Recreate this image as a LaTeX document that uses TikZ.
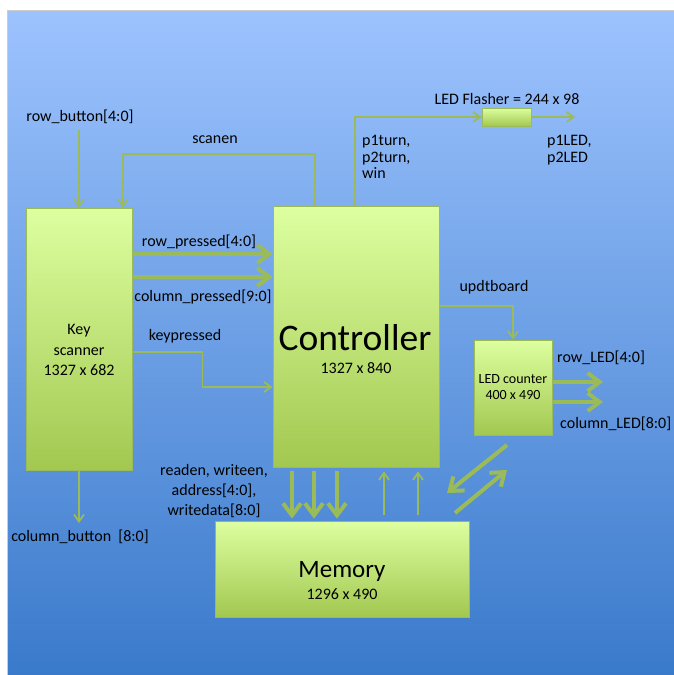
\documentclass[tikz,border=0pt]{standalone}
\usepackage{fontspec}
\setmainfont{Carlito}
\usetikzlibrary{arrows.meta,calc,positioning}
\definecolor{SkyTop}{HTML}{9DC3FE}
\definecolor{SkyBottom}{HTML}{3A7ACB}
\definecolor{LimeTop}{HTML}{DDFFA0}
\definecolor{LimeBottom}{HTML}{A2C850}
\definecolor{WireGreen}{HTML}{9BBB59}

\begin{document}
\begin{tikzpicture}[x=1pt,y=-1pt,
    block/.style={draw=WireGreen,line width=.8pt,top color=LimeTop,bottom color=LimeBottom,inner sep=0pt},
    sig/.style={-{Straight Barb[length=7pt,width=10pt]},line width=1.8pt,WireGreen},
    bus/.style={-{Straight Barb[length=12pt,width=18pt]},line width=4pt,WireGreen},
    lbl/.style={font=\fontsize{16}{16.5}\selectfont,inner sep=0pt}]
    \useasboundingbox (0,0) rectangle (674,675);
    \fill[top color=SkyTop,bottom color=SkyBottom,draw=gray!40] (7,10) rectangle (674,675);
    % blocks
    \node[block,minimum width=106pt,minimum height=262pt] (ks) at (79,339) {};
    \node[block,minimum width=166pt,minimum height=261pt] (ctrl) at (356,336.5) {};
    \node[block,minimum width=78pt,minimum height=95pt,align=center,font=\fontsize{14}{16}\selectfont] (ledcnt) at (513,387.5) {LED counter\\400 x 490};
    \node[block,minimum width=254pt,minimum height=96pt] (mem) at (342,569) {};
    \node[block,minimum width=49pt,minimum height=18pt] (flash) at (506.5,117) {};
    \node[lbl,align=center,font=\fontsize{16}{20.5}\selectfont] (kstext) at (79,350) {Key\\scanner\\1327 x 682};
    \node[inner sep=0pt,font=\fontsize{37.5}{37.5}\selectfont] (ctrltitle) at (355,338) {Controller};
    \node[lbl] (ctrlsize) at (356,368) {1327 x 840};
    \node[inner sep=0pt,font=\fontsize{25}{25}\selectfont] (memtitle) at (342,571) {Memory};
    \node[lbl] (memsize) at (342,594) {1296 x 490};
    % labels
    \node[lbl] (rblbl) at (80,117) {row\_button[4:0]};
    \node[lbl] (cblbl) at (80,537) {column\_button\ \ [8:0]};
    \node[lbl] (scanlbl) at (215,140) {scanen};
    \node[lbl] (flashlbl) at (507,99) {LED Flasher = 244 x 98};
    \node[lbl,align=left,anchor=west] (turnlbl) at (362,157) {p1turn,\\p2turn,\\win};
    \node[lbl,align=left,anchor=west] (ledlbl) at (547,150) {p1LED,\\p2LED};
    \node[lbl] (rplbl) at (199,242) {row\_pressed[4:0]};
    \node[lbl] (cplbl) at (203,297) {column\_pressed[9:0]};
    \node[lbl] (kplbl) at (185,336) {keypressed};
    \node[lbl] (updlbl) at (494,287) {updtboard};
    \node[lbl,anchor=west] (rledlbl) at (557,358) {row\_LED[4:0]};
    \node[lbl,anchor=west] (cledlbl) at (560,424) {column\_LED[8:0]};
    \node[lbl,align=center,font=\fontsize{16}{20}\selectfont] (memlbl) at (214,491) {readen, writeen,\\address[4:0],\\writedata[8:0]};
    % free ends
    \coordinate (rbin) at (79,130);
    \coordinate (cbout) at (79,523);
    \coordinate (flout) at (575,117);
    \coordinate (rled) at (603,382);
    \coordinate (cled) at (603,402);
    \coordinate (dna) at (507,445);
    \coordinate (dnb) at (447,493);
    \coordinate (upa) at (455,513);
    \coordinate (upb) at (507,470);
    % key scanner
    \draw[sig] (rbin) -- (ks.north);
    \draw[sig] (ks.south) -- (cbout);
    \draw[sig] ([xshift=-41pt]ctrl.north) -- ++(0,-52) -| ([xshift=44pt]ks.north);
    \draw[bus] ([yshift=85pt]ks.east) -- ([yshift=85pt]ks.east -| ctrl.west);
    \draw[bus] ([yshift=62pt]ks.east) -- ([yshift=62pt]ks.east -| ctrl.west);
    \draw[sig] ([yshift=-13pt]ks.east) -- ++(70,0) |- ([yshift=-50.5pt]ctrl.west);
    % controller outputs
    \draw[sig] ([xshift=-1pt]ctrl.north) |- (flash.west);
    \draw[sig] (flash.east) -- (flout);
    \draw[sig] ([yshift=30.5pt]ctrl.east) -| (ledcnt.north);
    \draw[bus] (ledcnt.east |- rled) -- (rled);
    \draw[bus] (ledcnt.east |- cled) -- (cled);
    \draw[bus] (dna) -- (dnb);
    \draw[bus] (upa) -- (upb);
    % memory
    \foreach \x in {292,314,337}
      \draw[bus,shorten <=4pt,shorten >=2pt] (ctrl.south -| \x,0) -- (mem.north -| \x,0);
    \foreach \x in {384,418}
      \draw[sig,shorten <=6pt,shorten >=4pt] (mem.north -| \x,0) -- (ctrl.south -| \x,0);
\end{tikzpicture}
\end{document}
